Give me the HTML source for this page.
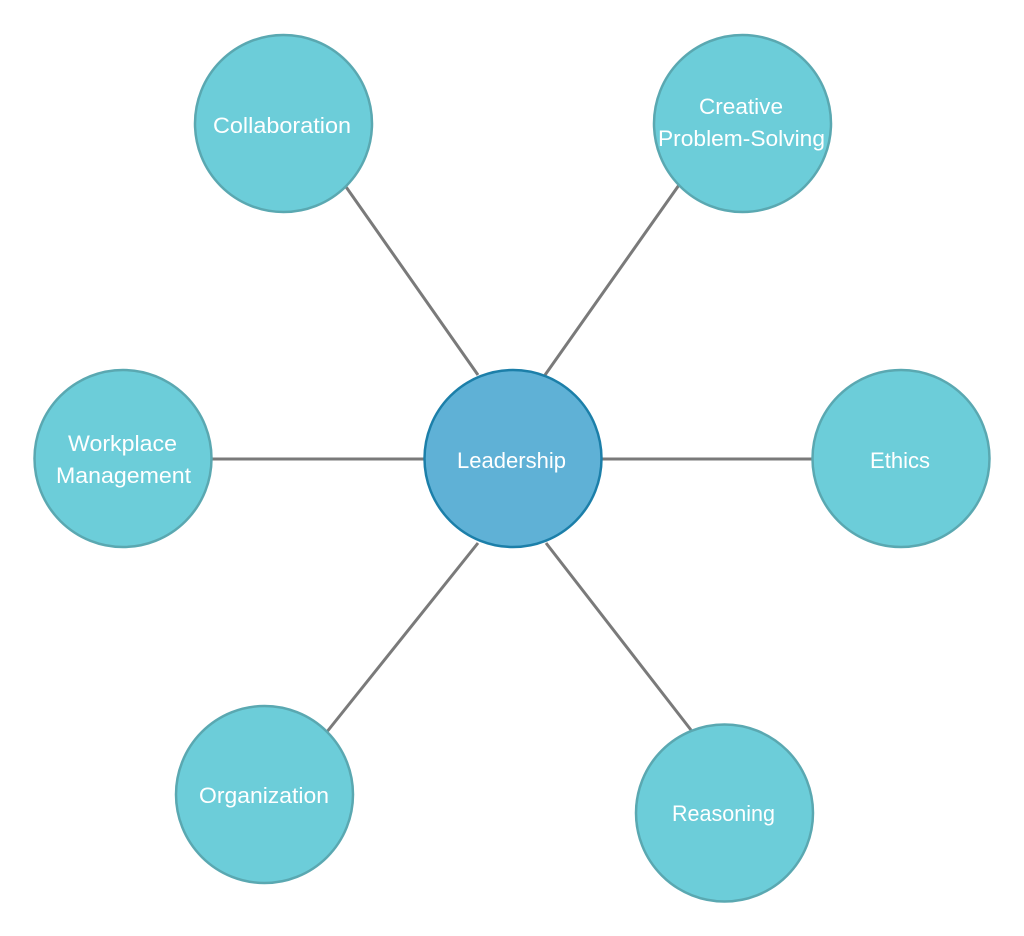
<!DOCTYPE html>
<html>
<head>
<meta charset="utf-8">
<style>
  html, body { margin:0; padding:0; background:#ffffff; }
  body { width:1024px; height:936px; overflow:hidden; }
  svg { display:block; }
  text { font-family: "Liberation Sans", "DejaVu Sans", sans-serif; font-size:22px; fill:#ffffff; text-anchor:middle; }
</style>
</head>
<body>
<svg width="1024" height="936" viewBox="0 0 1024 936" xmlns="http://www.w3.org/2000/svg">
  <g stroke="#7a7a7a" stroke-width="3" fill="none">
    <line x1="344" y1="184" x2="478" y2="375"/>
    <line x1="679" y1="185" x2="545" y2="375"/>
    <line x1="212" y1="459" x2="424" y2="459"/>
    <line x1="602" y1="459" x2="812" y2="459"/>
    <line x1="326" y1="733" x2="478" y2="543"/>
    <line x1="691" y1="730" x2="546" y2="543"/>
  </g>
  <g fill="#6ccdd9" stroke="#5aa8b1" stroke-width="2.5">
    <circle cx="283.5" cy="123.5" r="88.5"/>
    <circle cx="742.5" cy="123.5" r="88.5"/>
    <circle cx="123" cy="458.5" r="88.5"/>
    <circle cx="901" cy="458.5" r="88.5"/>
    <circle cx="264.5" cy="794.5" r="88.5"/>
    <circle cx="724.5" cy="813" r="88.5"/>
  </g>
  <circle cx="513" cy="458.5" r="88.5" fill="#5fb1d6" stroke="#1c7fa9" stroke-width="2.5"/>

  <text x="282" y="133" textLength="138" lengthAdjust="spacingAndGlyphs">Collaboration</text>
  <text x="741" y="114" textLength="84" lengthAdjust="spacingAndGlyphs">Creative</text>
  <text x="741.5" y="146" textLength="167" lengthAdjust="spacingAndGlyphs">Problem-Solving</text>
  <text x="122.5" y="451" textLength="109" lengthAdjust="spacingAndGlyphs">Workplace</text>
  <text x="123.5" y="483" textLength="135" lengthAdjust="spacingAndGlyphs">Management</text>
  <text x="511.5" y="468" textLength="109" lengthAdjust="spacingAndGlyphs">Leadership</text>
  <text x="900" y="468" textLength="60" lengthAdjust="spacingAndGlyphs">Ethics</text>
  <text x="264" y="803" textLength="130" lengthAdjust="spacingAndGlyphs">Organization</text>
  <text x="723.5" y="821" textLength="103" lengthAdjust="spacingAndGlyphs">Reasoning</text>
</svg>
</body>
</html>
